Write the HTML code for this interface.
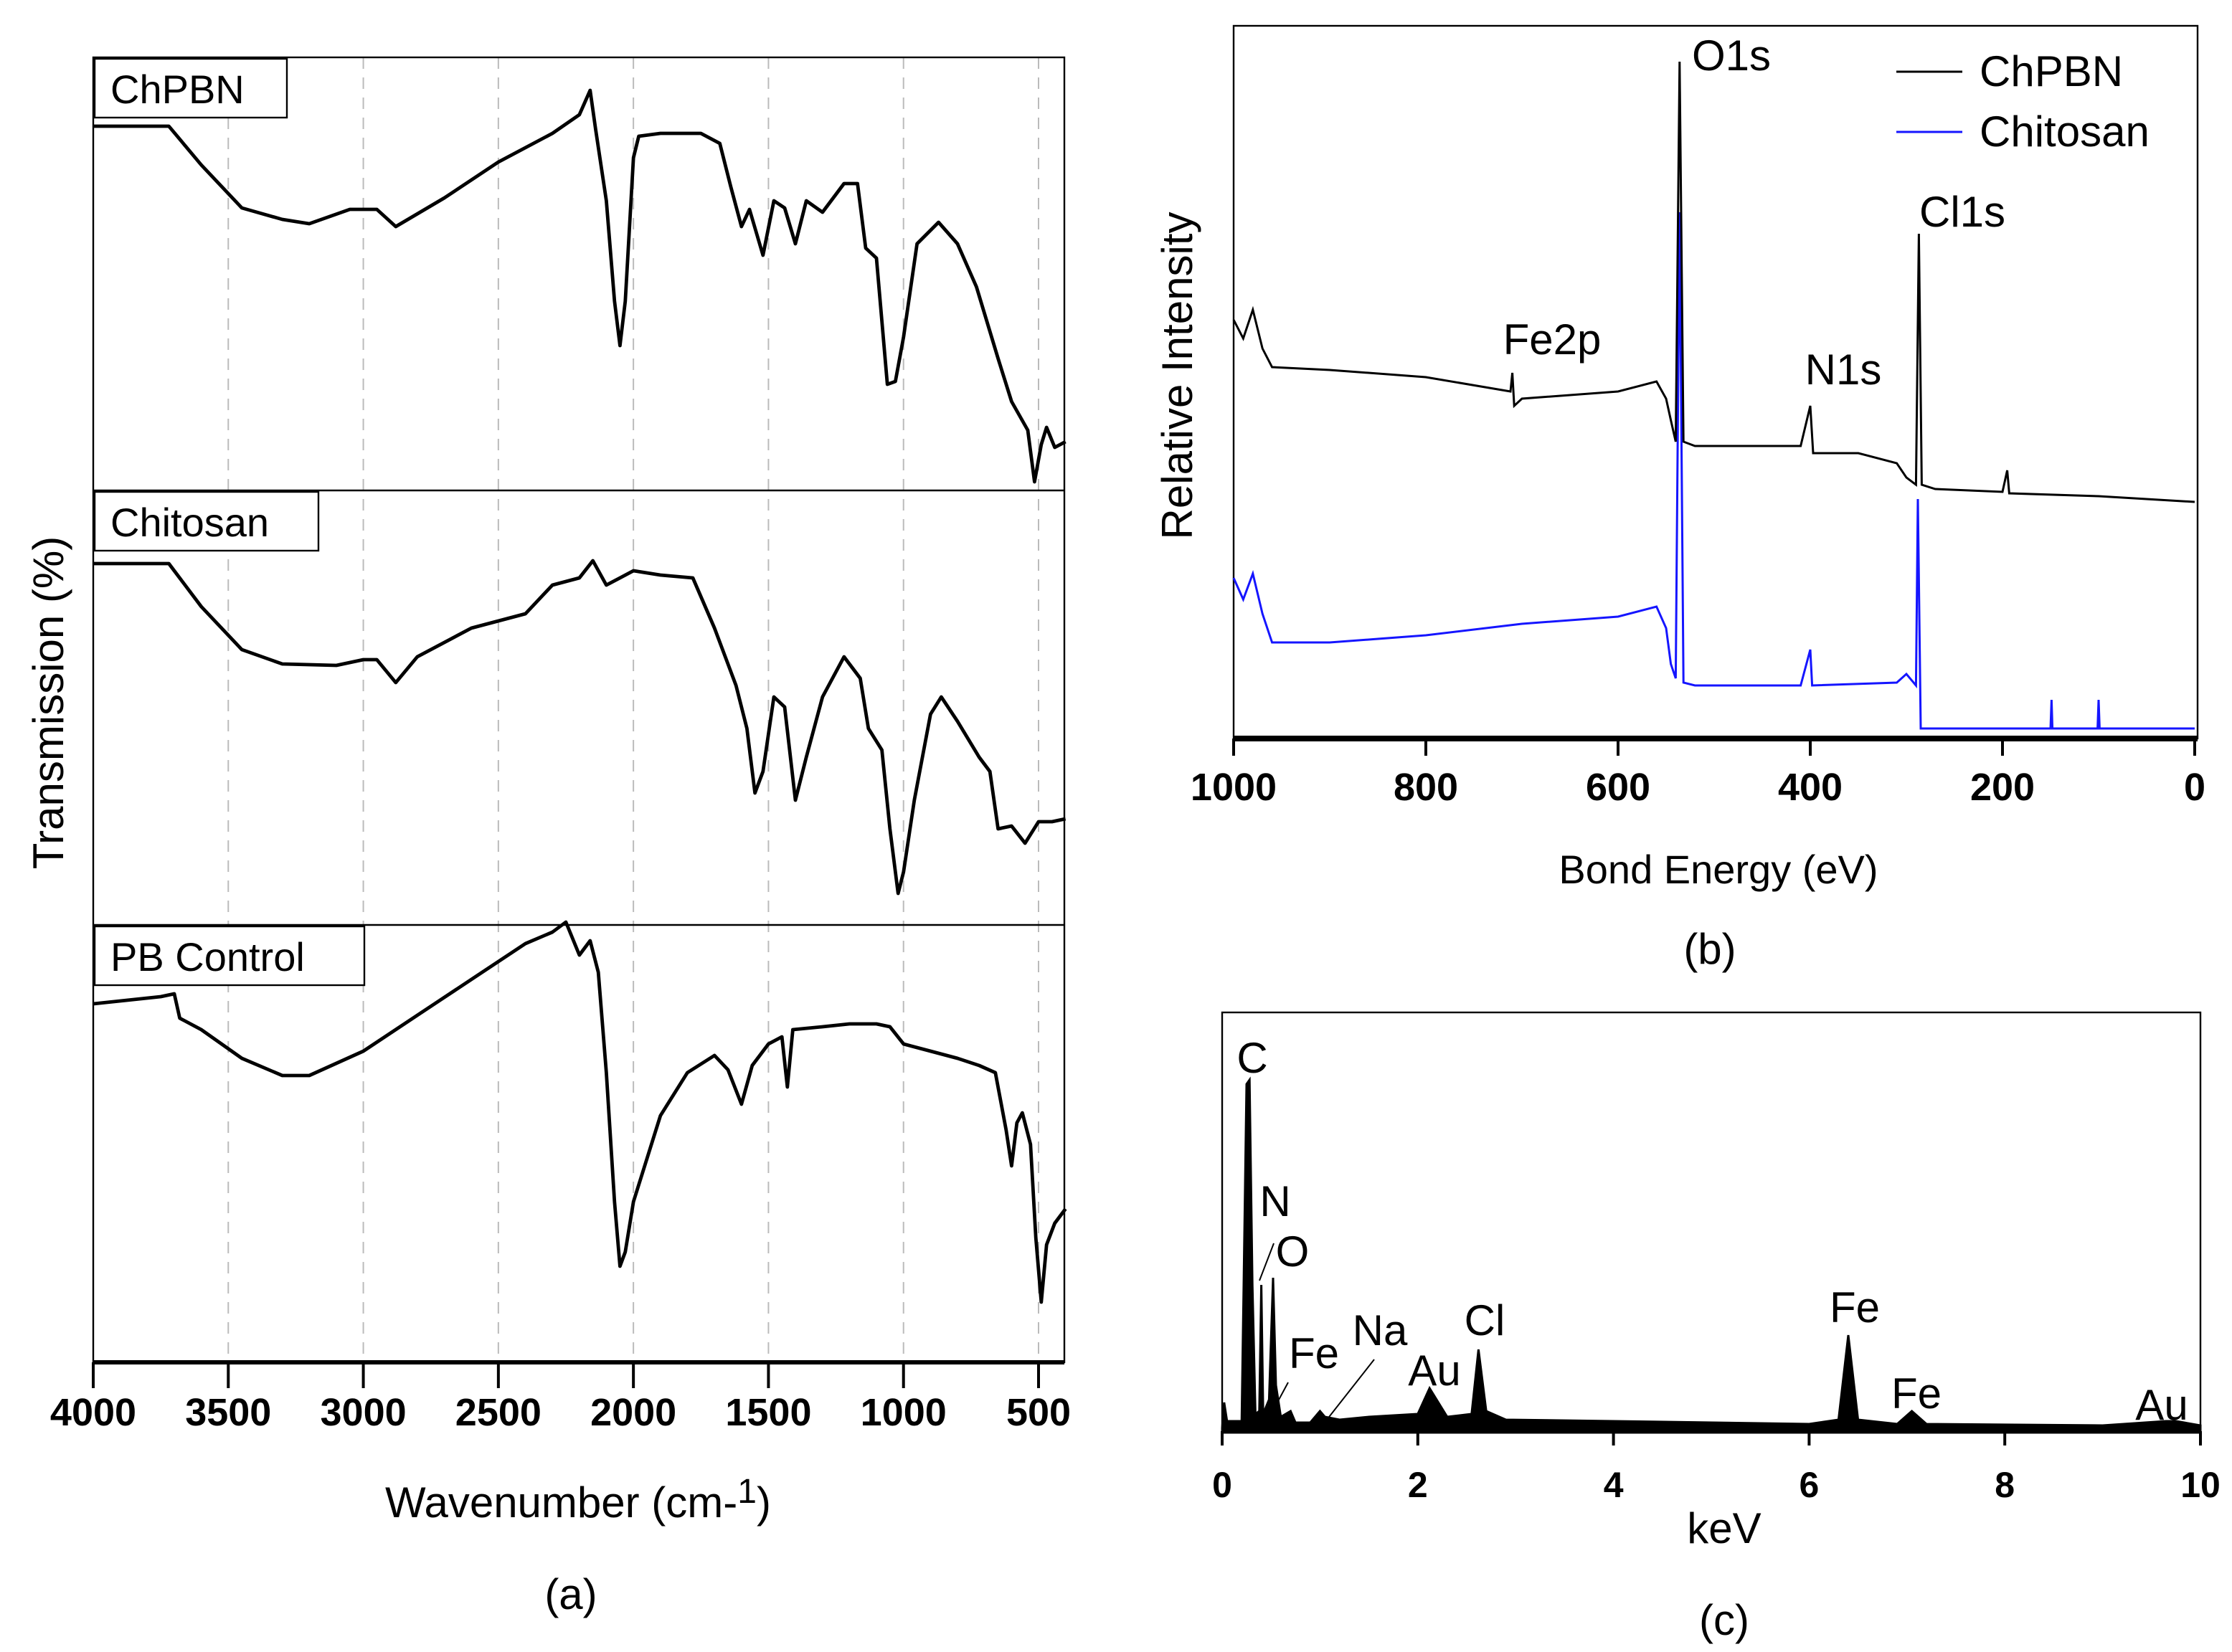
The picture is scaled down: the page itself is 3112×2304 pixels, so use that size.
<!DOCTYPE html>
<html><head><meta charset="utf-8"><style>
html,body{margin:0;padding:0;background:#fff}
svg{display:block}
text{font-family:"Liberation Sans",Arial,sans-serif;fill:#000}
</style></head><body>
<svg id="fig" width="3112" height="2304" viewBox="0 0 1556 1152" xmlns="http://www.w3.org/2000/svg">
<g id="pa"></g>
<g id="pb"></g>
<g id="pc"></g>
</svg>
<script>
// ---------- FTIR data (relative transmission, arbitrary units) ----------
const ftirTicks = [4000,3500,3000,2500,2000,1500,1000,500];
const chpbnWn = [4000,3720,3600,3450,3300,3200,3050,2950,2880,2700,2500,2300,2200,2160,2140,2100,2070,2050,2030,2000,1980,1900,1750,1680,1640,1600,1570,1520,1480,1440,1400,1360,1300,1220,1170,1140,1100,1060,1030,1000,950,870,800,730,650,600,540,515,490,470,440,420,400];
const chpbnT  = [252,252,225,195,187,184,194,194,182,202,227,247,260,277,250,200,130,99,130,230,245,247,247,240,210,182,194,162,200,195,170,200,192,212,212,167,160,72,74,105,170,185,170,140,90,60,40,4,30,42,28,30,32];
const chitWn = [4000,3720,3600,3450,3300,3100,3000,2950,2880,2800,2600,2400,2300,2200,2150,2100,2050,2000,1900,1780,1700,1620,1580,1550,1520,1480,1440,1400,1360,1300,1220,1160,1130,1080,1050,1020,1000,960,900,860,800,720,680,650,600,550,500,450,400];
const chitT  = [250,250,220,190,180,179,183,183,167,185,205,215,235,240,252,235,240,245,242,240,205,165,135,90,105,157,150,85,115,157,185,170,135,120,65,20,35,85,145,157,140,115,105,65,67,55,70,70,72];
const pbWn = [4000,3750,3700,3680,3600,3450,3300,3200,3000,2800,2600,2400,2300,2250,2200,2160,2130,2100,2070,2050,2030,2000,1900,1800,1700,1650,1600,1560,1500,1450,1430,1410,1300,1200,1100,1050,1000,900,800,720,660,620,600,580,560,530,510,490,470,440,400];
const pbT  = [248,253,255,238,230,210,198,198,215,240,265,290,298,305,282,292,270,200,110,65,75,110,170,200,212,202,178,205,220,225,190,230,232,234,234,232,220,215,210,205,200,160,135,165,172,150,85,40,80,95,105];
// ---------- XPS data ----------
const xpsTicks = [1000,800,600,400,200,0];
const xpsBE = [1000,990,980,970,960,900,800,712,710,708,700,600,560,550,545,540,536,532,520,450,410,400,397,350,310,300,290,287,284,270,200,195,193,100,0];
const xpsChPBN = [290,277,297,270,257,255,250,240,253,230,235,240,247,235,220,205,470,205,202,202,202,230,197,197,190,180,175,350,175,172,170,185,169,167,163];
const xpsBE2 = [1000,990,980,970,960,900,800,700,600,560,550,545,540,536,532,520,410,400,398,310,300,290,288,285,150,149,148,101,100,99,0];
const xpsChit = [110,95,113,85,65,65,70,78,83,90,75,50,40,365,37,35,35,60,35,37,43,35,165,5,5,25,5,5,25,5,5];
// ---------- EDS data ----------
const edsTicks = [0,2,4,6,8,10];
const edsKeV = [0,0.02,0.05,0.2,0.22,0.25,0.28,0.31,0.34,0.38,0.40,0.42,0.48,0.52,0.55,0.6,0.7,0.75,0.9,1.0,1.05,1.2,1.5,2.0,2.12,2.3,2.55,2.62,2.7,2.9,4,6,6.3,6.4,6.5,6.9,7.05,7.2,9,9.65,9.75,10];
const edsCounts = [0,18,5,5,100,240,243,100,10,12,100,10,20,105,30,8,12,4,4,12,8,6,8,10,28,8,10,55,12,6,5,3,6,65,6,3,12,3,2,5,5,2];

const NS="http://www.w3.org/2000/svg";
function mk(parent,tag,attrs,txt){const e=document.createElementNS(NS,tag);for(const k in attrs)e.setAttribute(k,attrs[k]);if(txt!==undefined)e.textContent=txt;parent.appendChild(e);return e;}
function lin(d0,d1,r0,r1){return v=>r0+(v-d0)/(d1-d0)*(r1-r0);}
function pathOf(xs,ys,fx,fy){return xs.map((v,i)=>(i?'L':'M')+fx(v).toFixed(1)+','+fy(ys[i]).toFixed(1)).join('');}

// ---------- Panel A ----------
const pa=document.getElementById('pa');
const ax=lin(4000,500,65,724);
const L=65,R=742,T=40,B=950;
const bands=[[40,342],[342,645],[645,950]];
for(const t of ftirTicks.slice(1)){
  const gl=mk(pa,'line',{x1:ax(t),x2:ax(t),y1:T,y2:B,stroke:'#bbb','stroke-width':1,'stroke-dasharray':'8,6'});
  
  
}
const fr=mk(pa,'rect',{x:L,y:T,width:R-L,height:B-T,fill:'none',stroke:'#000','stroke-width':1.2});

mk(pa,'line',{x1:L,x2:R,y1:342,y2:342,stroke:'#000','stroke-width':1.2});
mk(pa,'line',{x1:L,x2:R,y1:645,y2:645,stroke:'#000','stroke-width':1.2});
mk(pa,'line',{x1:L,x2:R,y1:B,y2:B,stroke:'#000','stroke-width':3});
const series=[[chpbnWn,chpbnT,'ChPBN',134],[chitWn,chitT,'Chitosan',156],[pbWn,pbT,'PB Control',188]];
series.forEach((s,i)=>{
  const [b0,b1]=bands[i];
  const fy=lin(0,300,b1-2,b1-302);
  const p=mk(pa,'path',{d:pathOf(s[0],s[1],ax,fy),fill:'none',stroke:'#000','stroke-width':2.4,'stroke-linejoin':'round'});
  
  
  const bx=mk(pa,'rect',{x:L+1,y:b0+1,width:s[3],height:41,fill:'#fff',stroke:'#000','stroke-width':1.2});
  
  const tx=mk(pa,'text',{x:L+12,y:b0+32,'font-size':28},s[2]);
  
});
for(const t of ftirTicks){
  mk(pa,'line',{x1:ax(t),x2:ax(t),y1:B,y2:B+18,stroke:'#000','stroke-width':2});
  const tl=mk(pa,'text',{x:ax(t),y:B+44,'font-size':27,'font-weight':'bold','text-anchor':'middle'},String(t));
  
}
let t1=mk(pa,'text',{x:403,y:1058,'font-size':30,'text-anchor':'middle'});
t1.innerHTML='Wavenumber (cm-<tspan dy="-10" font-size="24">1</tspan><tspan dy="10">)</tspan>';

t1=mk(pa,'text',{x:0,y:0,'font-size':30,'text-anchor':'middle',transform:'translate(44,490) rotate(-90)'},'Transmission (%)');

t1=mk(pa,'text',{x:398,y:1122,'font-size':30,'text-anchor':'middle'},'(a)');


// ---------- Panel B ----------
const pb=document.getElementById('pb');
const bx=lin(1000,0,860,1530);
const by=lin(0,500,513,13);
let e=mk(pb,'rect',{x:860,y:18,width:672,height:497,fill:'none',stroke:'#000','stroke-width':1.2});

e=mk(pb,'path',{d:pathOf(xpsBE2,xpsChit,bx,by),fill:'none',stroke:'#1515ff','stroke-width':1.5});

e=mk(pb,'path',{d:pathOf(xpsBE,xpsChPBN,bx,by),fill:'none',stroke:'#000','stroke-width':1.5});

mk(pb,'line',{x1:860,x2:1532,y1:515,y2:515,stroke:'#000','stroke-width':4});
for(const t of xpsTicks){
  mk(pb,'line',{x1:bx(t),x2:bx(t),y1:515,y2:527,stroke:'#000','stroke-width':2});
  const tl=mk(pb,'text',{x:bx(t),y:558,'font-size':27,'font-weight':'bold','text-anchor':'middle'},String(t));
  
}
[['O1s',1207,49],['Cl1s',1368,158],['Fe2p',1082,247],['N1s',1285,268]].forEach(a=>{
  const t=mk(pb,'text',{x:a[1],y:a[2],'font-size':30,'text-anchor':'middle'},a[0]);
  
});
e=mk(pb,'line',{x1:1322,x2:1368,y1:50,y2:50,stroke:'#000','stroke-width':1.5});

e=mk(pb,'text',{x:1380,y:60,'font-size':30},'ChPBN');

e=mk(pb,'line',{x1:1322,x2:1368,y1:92,y2:92,stroke:'#1515ff','stroke-width':1.5});

e=mk(pb,'text',{x:1380,y:102,'font-size':30},'Chitosan');

e=mk(pb,'text',{x:1198,y:616,'font-size':28,'text-anchor':'middle'},'Bond Energy (eV)');

e=mk(pb,'text',{x:0,y:0,'font-size':30,'text-anchor':'middle',transform:'translate(831,262) rotate(-90)'},'Relative Intensity');

e=mk(pb,'text',{x:1192,y:672,'font-size':30,'text-anchor':'middle'},'(b)');


// ---------- Panel C ----------
const pc=document.getElementById('pc');
const cx=lin(0,10,852,1534);
const cy=lin(0,300,996,696);
e=mk(pc,'rect',{x:852,y:706,width:682,height:292,fill:'none',stroke:'#000','stroke-width':1.2});

const dpath=pathOf(edsKeV,edsCounts,cx,cy)+'L'+cx(10)+',999L'+cx(0)+',999Z';
e=mk(pc,'path',{d:dpath,fill:'#000',stroke:'#000','stroke-width':1.5});

mk(pc,'line',{x1:852,x2:1534,y1:996,y2:996,stroke:'#000','stroke-width':5});
for(const t of edsTicks){
  mk(pc,'line',{x1:cx(t),x2:cx(t),y1:998,y2:1008,stroke:'#000','stroke-width':2});
  const tl=mk(pc,'text',{x:cx(t),y:1044,'font-size':25,'font-weight':'bold','text-anchor':'middle'},String(t));
  
}
[['C',873,748],['N',889,848],['O',901,883],['Fe',916,954],['Na',962,938],['Au',1000,966],['Cl',1035,931],['Fe',1293,922],['Fe',1336,982],['Au',1507,990]].forEach(a=>{
  const t=mk(pc,'text',{x:a[1],y:a[2],'font-size':30,'text-anchor':'middle'},a[0]);
  
});
mk(pc,'path',{d:'M888,867L878,893M898,964L884,990M958,948L925,990',stroke:'#000','stroke-width':1,fill:'none'});
e=mk(pc,'text',{x:1202,y:1076,'font-size':30,'text-anchor':'middle'},'keV');

e=mk(pc,'text',{x:1202,y:1140,'font-size':30,'text-anchor':'middle'},'(c)');

</script>
</body></html>
